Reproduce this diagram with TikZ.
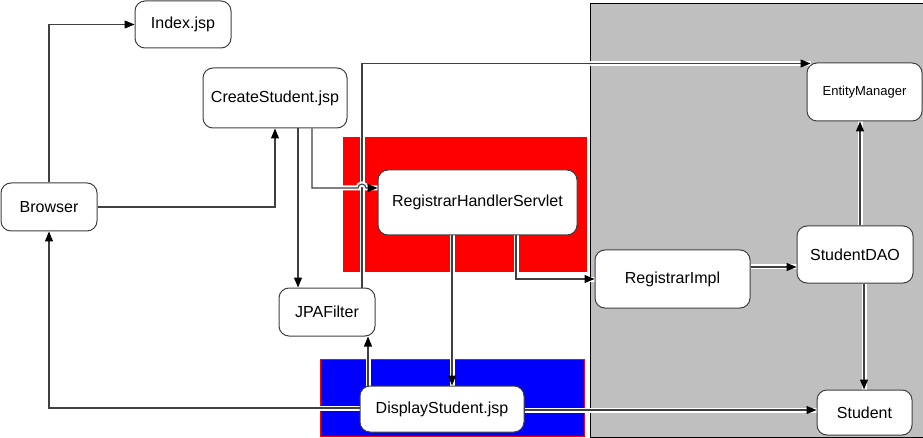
\documentclass[tikz,border=0pt]{standalone}
\usepackage{fontspec}
\setmainfont{Liberation Sans}
\usetikzlibrary{arrows.meta,calc}
\pgfdeclarelayer{bg}
\pgfdeclarelayer{mid}
\pgfsetlayers{bg,mid,main}
\begin{document}
\begin{tikzpicture}[x=1pt,y=-1pt,
  box/.style={draw=black!75, line width=1pt, fill=white, rounded corners=10pt,
    inner sep=0pt, font=\fontsize{16}{19}\selectfont},
  tip/.style={-{Triangle[length=10pt,width=8pt,fill=black,color=black]}},
  conn/.style={draw=black!75, line width=1.1pt, tip,
    preaction={draw=white, line width=5pt, -}},
  plain/.style={draw=black!75, line width=1.1pt, tip}]
\useasboundingbox (0,0) rectangle (923,438);
% nodes
\node[box, minimum width=96pt, minimum height=47pt] (idx) at (183,24.5) {Index.jsp};
\node[box, minimum width=144pt, minimum height=60pt] (cs) at (275,98) {CreateStudent.jsp};
\node[box, minimum width=96pt, minimum height=48pt] (br) at (49,207) {Browser};
\node[box, minimum width=96pt, minimum height=48pt] (jpa) at (327,312) {JPAFilter};
\node[box, minimum width=199pt, minimum height=65pt] (rhs) at (477.5,202.5) {RegistrarHandlerServlet};
\node[box, minimum width=164pt, minimum height=46pt] (ds) at (442,409) {DisplayStudent.jsp};
\node[box, minimum width=115pt, minimum height=58pt, font=\fontsize{13}{16}\selectfont] (em) at (864.5,92) {EntityManager};
\node[box, minimum width=155pt, minimum height=58pt] (ri) at (672.5,279) {RegistrarImpl};
\node[box, minimum width=116pt, minimum height=57pt] (dao) at (855,254.5) {StudentDAO};
\node[box, minimum width=95pt, minimum height=45pt] (st) at (864.5,412.5) {Student};
% background regions
\begin{pgfonlayer}{bg}
  \fill[white] (0,0) rectangle (923,438);
  \draw[fill=black!25, line width=1pt] (590.5,4) rectangle (923.5,437);
  \fill[red] (343,137) rectangle (587,272);
  \draw[draw=red, fill=blue, line width=1pt] (320.5,359.5) rectangle (584.5,436.5);
\end{pgfonlayer}
% helper coordinates
\coordinate (c298) at (298,0);
\coordinate (c312) at (312,0);
\coordinate (c362) at (362,0);
\coordinate (c368) at (368,0);
\coordinate (c452) at (452,0);
\coordinate (c516) at (516,0);
\coordinate (c860) at (860,0);
\coordinate (c864) at (864,0);
\coordinate (y188) at (0,188);
\coordinate (y267) at (0,267);
\coordinate (y408) at (0,408);
\coordinate (y410) at (0,410);
\coordinate (hopa) at (358,188);
% connectors
\begin{pgfonlayer}{mid}
  \draw[plain] (br.north) |- (idx.west);
  \draw[plain] (br.east) -| (cs.south);
  \draw[plain] (cs.south -| c298) -- (jpa.north -| c298);
  \draw[conn] (jpa.north -| c362) |- ([shift={(4,1)}]em.north west);
  \draw[conn] (cs.south -| c312) |- (hopa) arc[start angle=180, end angle=0, radius=4pt] -- (rhs.west |- y188);
  \draw[conn] (rhs.south -| c452) -- (ds.north -| c452);
  \draw[conn] (rhs.south -| c516) |- (ri.west);
  \draw[conn] (ri.east |- y267) -- (dao.west |- y267);
  \draw[conn] (dao.north -| c860) -- (em.south -| c860);
  \draw[conn] (dao.south -| c864) -- (st.north -| c864);
  \draw[conn] (ds.east |- y410) -- (st.west |- y410);
  \draw[conn] (ds.west |- y408) -| (br.south);
  \draw[conn] (ds.north -| c368) -- (jpa.south -| c368);
\end{pgfonlayer}
\end{tikzpicture}
\end{document}
